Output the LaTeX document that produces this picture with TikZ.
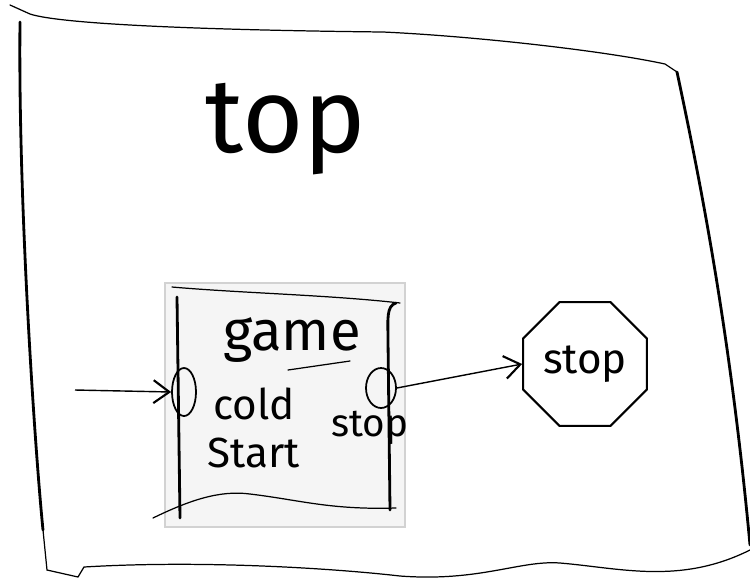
\documentclass[tikz,border=0pt]{standalone}
\usepackage{fontspec}
\setmainfont{Fira Sans}
\usetikzlibrary{arrows.meta,shapes.geometric}
\begin{document}
\begin{tikzpicture}[
        x=0.02cm,y=-0.02cm,
        every node/.style={
            inner sep=1pt,text=black
        },
        thick pen/.style={line width=1.6pt,line cap=round},
        thin pen/.style={line width=0.7pt,line cap=round},
        port/.style={ellipse,draw,line width=1pt,inner sep=0pt},
        wire/.style={line width=0.8pt,-{Straight Barb[length=9pt,width=13pt,line width=1.2pt]}},
        lbl/.style={font=\fontsize{24}{27}\selectfont,align=center}
    ]
    \useasboundingbox (0,0) rectangle (750,579);
% Outer box
    \draw[thin pen] (10,5) -- (30,14) .. controls (60,24) and (200,30) .. (383,32)
        .. controls (470,36) and (600,50) .. (665,64) -- (677,72);
    \draw[thick pen] (20,22) .. controls (18,200) and (35,450) .. (43,530);
    \draw[thin pen] (43,530) -- (47,570) -- (78,577) -- (84,567)
        .. controls (200,560) and (330,568) .. (400,576)
        .. controls (480,582) and (520,560) .. (560,563)
        .. controls (620,568) and (680,585) .. (750,550);
    \draw[thick pen] (677,72) .. controls (700,180) and (730,330) .. (750,545);
    \node[font=\fontsize{60}{60}\selectfont,anchor=base] (top) at (286,152) {top};
% Game block
    \fill[gray!8] (165,283) rectangle (405,527);
    \draw[gray!35,line width=0.6pt] (165,283) rectangle (405,527);
    \draw[thick pen] (177,297) -- (180,518);
    \draw[thick pen] (396,303) .. controls (386,306) and (388,320) .. (388,340) -- (390,510);
    \draw[thin pen] (172,287) .. controls (240,293) and (330,295) .. (400,303);
    \draw[thin pen] (153,518) .. controls (190,500) and (220,490) .. (250,494)
        .. controls (300,500) and (330,510) .. (396,508);
    \node[font=\fontsize{32}{32}\selectfont,anchor=base] (game) at (292,350) {game};
    \draw[thin pen] (288,370) -- (350,361);
% Ports
    \node[port,minimum width=0.48cm,minimum height=0.96cm] (coldport) at (184,392) {};
    \node[port,minimum width=0.6cm,minimum height=0.8cm] (stopport) at (381,388) {};
    \node[lbl] (coldlbl) at (254,428) {cold\\Start};
    \node[lbl,font=\fontsize{22}{22}\selectfont] (stoplbl) at (370,428) {stop};
% Stop state
    \node[regular polygon,regular polygon sides=8,draw,line width=1.2pt,
        minimum size=2.56cm,lbl,font=\fontsize{24}{24}\selectfont] (stop) at (585,364) {stop};
% Wires
    \coordinate (in) at (75,390);
    \draw[wire] (in) -- (coldport.west);
    \draw[wire] (stopport.east) -- (stop.west);
\end{tikzpicture}
\end{document}
